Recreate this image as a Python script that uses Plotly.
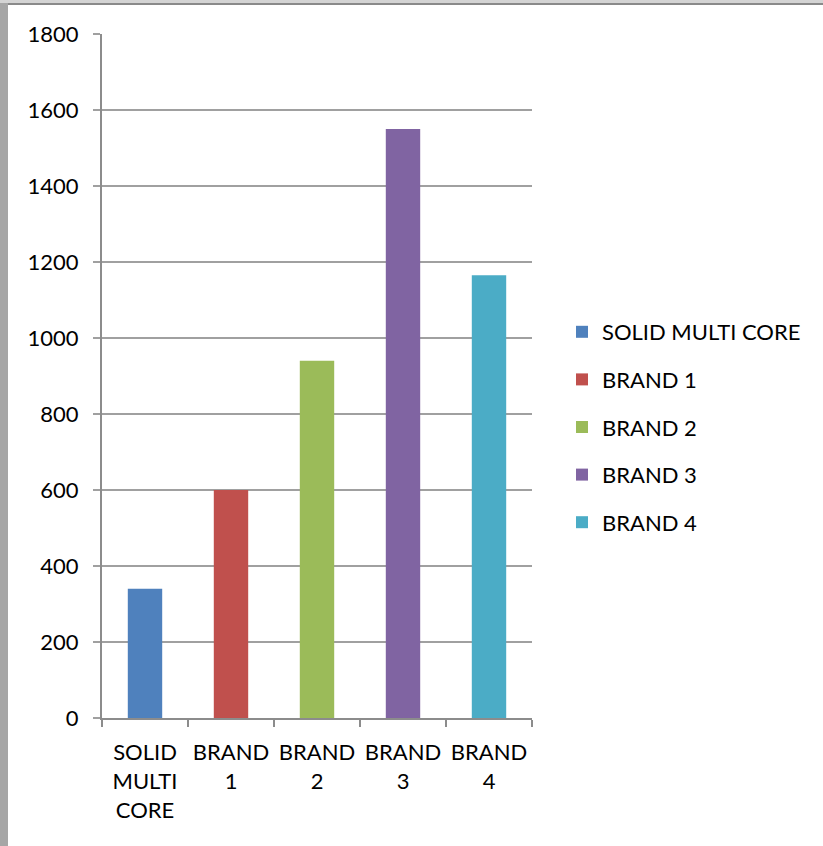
import plotly.graph_objects as go

categories = ["SOLID MULTI CORE", "BRAND 1", "BRAND 2", "BRAND 3", "BRAND 4"]
tick_labels = ["SOLID<br>MULTI<br>CORE", "BRAND<br>1", "BRAND<br>2", "BRAND<br>3", "BRAND<br>4"]
values = [340, 600, 940, 1550, 1165]
colors = ["#4F81BD", "#C0504D", "#9BBB59", "#8064A2", "#4BACC6"]

W, H = 823, 846
L, R, T, B = 102, 291, 34, 128
pw, ph = W - L - R, H - T - B

fig = go.Figure()
for i, (c, v, col) in enumerate(zip(categories, values, colors)):
    fig.add_trace(go.Bar(x=[tick_labels[i]], y=[v], name=c, marker_color=col,
                         marker_line_width=0, width=0.4, legendgroup=c))

def px_x(p):
    return (p - L) / pw

def px_y(p):
    return (H - B - p) / ph

shapes = [
    dict(type="rect", xref="paper", yref="paper", x0=px_x(0), x1=px_x(8), y0=px_y(H), y1=px_y(0),
         fillcolor="#a6a6a6", line_width=0, layer="below"),
    dict(type="rect", xref="paper", yref="paper", x0=px_x(0), x1=px_x(W), y0=px_y(3), y1=px_y(0),
         fillcolor="#d4d4d4", line_width=0, layer="below"),
    dict(type="rect", xref="paper", yref="paper", x0=px_x(8), x1=px_x(W), y0=px_y(5), y1=px_y(3),
         fillcolor="#8a8a8a", line_width=0, layer="below"),
]

font = "Lato, 'Open Sans', sans-serif"
fs = 22
fig.update_layout(
    width=W, height=H,
    margin=dict(l=L, r=R, t=T, b=B, autoexpand=False),
    paper_bgcolor="white", plot_bgcolor="white",
    barmode="overlay",
    font=dict(family=font, size=fs, color="black"),
    shapes=shapes,
    showlegend=True,
    legend=dict(x=px_x(562), xanchor="left", xref="paper", y=px_y(427), yanchor="middle",
                font=dict(size=fs, family=font), traceorder="grouped",
                tracegroupgap=16, itemwidth=30, bgcolor="rgba(0,0,0,0)"),
    xaxis=dict(type="category", range=[-0.5, 4.5], showgrid=False, automargin=False,
               showline=True, linecolor="#8c8c8c", linewidth=2, tickangle=0,
               ticks="outside", tickson="boundaries", ticklen=7, tickcolor="#8c8c8c",
               tickwidth=2, tickfont=dict(size=fs, family=font), ticklabelstandoff=14),
    yaxis=dict(range=[0, 1800], dtick=200, showgrid=True, gridcolor="#a0a0a0", gridwidth=2,
               showline=True, linecolor="#8c8c8c", linewidth=2, automargin=False,
               ticks="outside", ticklen=7, tickcolor="#a0a0a0", tickwidth=2,
               tickfont=dict(size=fs, family=font), ticklabelstandoff=10, zeroline=False),
)

fig.write_html("out.html")
